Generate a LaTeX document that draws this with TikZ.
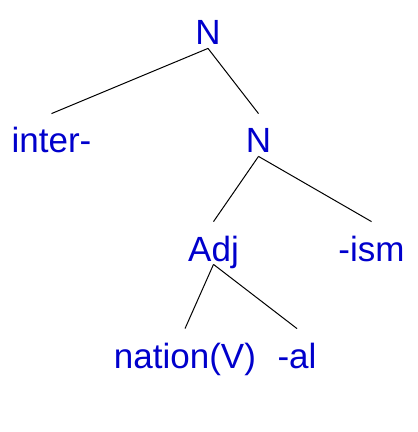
\documentclass[tikz,border=0pt]{standalone}
\usepackage{fontspec}
\setmainfont{Liberation Sans}
\definecolor{treeblue}{RGB}{0,0,204}

\begin{document}
\begin{tikzpicture}[x=0.5pt, y=-0.5pt,
    cat/.style={anchor=base, text=treeblue, inner xsep=0pt, inner ysep=1.5pt,
      text height=18pt, text depth=0pt, font=\fontsize{17.5pt}{21pt}\selectfont},
    branch/.style={black, line width=0.5pt}]

  \useasboundingbox (0,0) rectangle (417,432);

  % --- Nodes ---
  \node[cat] (n1)  at (208, 45)    {N};
  \node[cat] (pre) at (51.5, 153)  {inter-};
  \node[cat] (n2)  at (258.5, 153) {N};
  \node[cat] (adj) at (213.5, 261) {Adj};
  \node[cat] (ism) at (371.5, 261) {-ism};
  \node[cat] (nat) at (185, 368)   {nation(V)};
  \node[cat] (al)  at (297, 368)   {-al};

  % --- Branches ---
  \foreach \p/\c in {n1/pre, n1/n2, n2/adj, n2/ism, adj/nat, adj/al} {
    \draw[branch] (\p.south) -- (\c.north);
  }

\end{tikzpicture}
\end{document}
